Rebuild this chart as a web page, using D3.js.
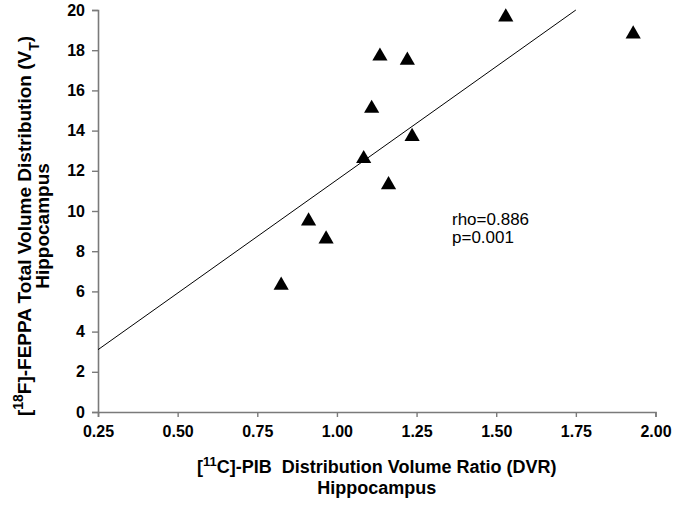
<!DOCTYPE html>
<html>
<head>
<meta charset="utf-8">
<script src="https://cdn.jsdelivr.net/npm/d3@7"></script>
<style>
  html, body { margin: 0; padding: 0; background: #fff; }
  svg { display: block; }
  text { font-family: "Liberation Sans", Arial, sans-serif; }
</style>
</head>
<body>
<svg id="chart" width="675" height="505"></svg>
<script>
// ---- data ----
const pibDVR = [1.93, 1.53, 1.135, 1.221, 1.109, 1.236, 1.084, 1.162, 0.911, 0.966, 0.825];
const feppaVT = [18.9, 19.75, 17.8, 17.6, 15.2, 13.8, 12.7, 11.4, 9.6, 8.7, 6.4];
const fitX = [0.25, 1.75];
const fitY = [3.1, 20.0];
const xTicks = [0.25, 0.50, 0.75, 1.00, 1.25, 1.50, 1.75, 2.00];
const yTicks = [0, 2, 4, 6, 8, 10, 12, 14, 16, 18, 20];
const statsText = ["rho=0.886", "p=0.001"];

const svg = d3.select("#chart");
const x = d3.scaleLinear().domain([0.25, 2.00]).range([98, 655.5]);
const y = d3.scaleLinear().domain([0, 20]).range([412, 10]);
const axisColor = "#7a7a7a";

// x axis
const gx = svg.append("g").attr("transform", `translate(0,${y(0)})`)
  .call(d3.axisBottom(x).tickValues(xTicks).tickFormat(d3.format(".2f")).tickSizeOuter(0).tickSize(5).tickPadding(9));
// y axis
const gy = svg.append("g").attr("transform", `translate(${x(0.25)},0)`)
  .call(d3.axisLeft(y).tickValues(yTicks).tickFormat(d3.format("d")).tickSizeOuter(0).tickSize(6).tickPadding(7));

[gx, gy].forEach(g => {
  g.select(".domain").attr("stroke", axisColor).attr("stroke-width", 1.6);
  g.selectAll(".tick line").attr("stroke", axisColor).attr("stroke-width", 1.4);
  g.selectAll(".tick text").attr("fill", "#000").style("font-size", "16px").style("font-weight", "bold")
    .style("font-family", "'Liberation Sans', Arial, sans-serif");
});

// regression line
svg.append("line")
  .attr("x1", x(fitX[0])).attr("y1", y(fitY[0]))
  .attr("x2", x(fitX[1])).attr("y2", y(fitY[1]))
  .attr("stroke", "#000").attr("stroke-width", 1);

// points
const tri = d3.symbol().type(d3.symbolTriangle).size(100);
svg.append("g").selectAll("path")
  .data(pibDVR.map((d, i) => [d, feppaVT[i]]))
  .join("path")
  .attr("d", tri)
  .attr("transform", d => `translate(${x(d[0])},${y(d[1]) + 2})`)
  .attr("fill", "#000");

// stats text
const st = svg.append("text").attr("x", 452).attr("y", 225)
  .style("font-size", "17px").attr("fill", "#000");
statsText.forEach((t, i) => st.append("tspan").attr("x", 452).attr("dy", i === 0 ? 0 : 18).text(t));

// x title
const cx = (x(0.25) + x(2.00)) / 2;
const xt = svg.append("text").attr("x", cx).attr("y", 473).attr("text-anchor", "middle")
  .style("font-size", "18px").style("font-weight", "bold").style("white-space", "pre");
xt.append("tspan").text("[");
xt.append("tspan").attr("baseline-shift", "super").style("font-size", "13px").text("11");
xt.append("tspan").text("C]-PIB  Distribution Volume Ratio (DVR)");
svg.append("text").attr("x", cx).attr("y", 494).attr("text-anchor", "middle")
  .style("font-size", "18px").style("font-weight", "bold").text("Hippocampus");

// y title
const cy = 226;
const yt = svg.append("text").attr("transform", `translate(31,${cy}) rotate(-90)`).attr("text-anchor", "middle")
  .style("font-size", "19px").style("font-weight", "bold");
yt.append("tspan").text("[");
yt.append("tspan").attr("baseline-shift", "super").style("font-size", "14px").text("18");
yt.append("tspan").text("F]-FEPPA Total Volume Distribution (V");
yt.append("tspan").attr("baseline-shift", "sub").style("font-size", "14px").text("T");
yt.append("tspan").text(")");
svg.append("text").attr("transform", `translate(49,${cy}) rotate(-90)`).attr("text-anchor", "middle")
  .style("font-size", "19px").style("font-weight", "bold").text("Hippocampus");
</script>
</body>
</html>
